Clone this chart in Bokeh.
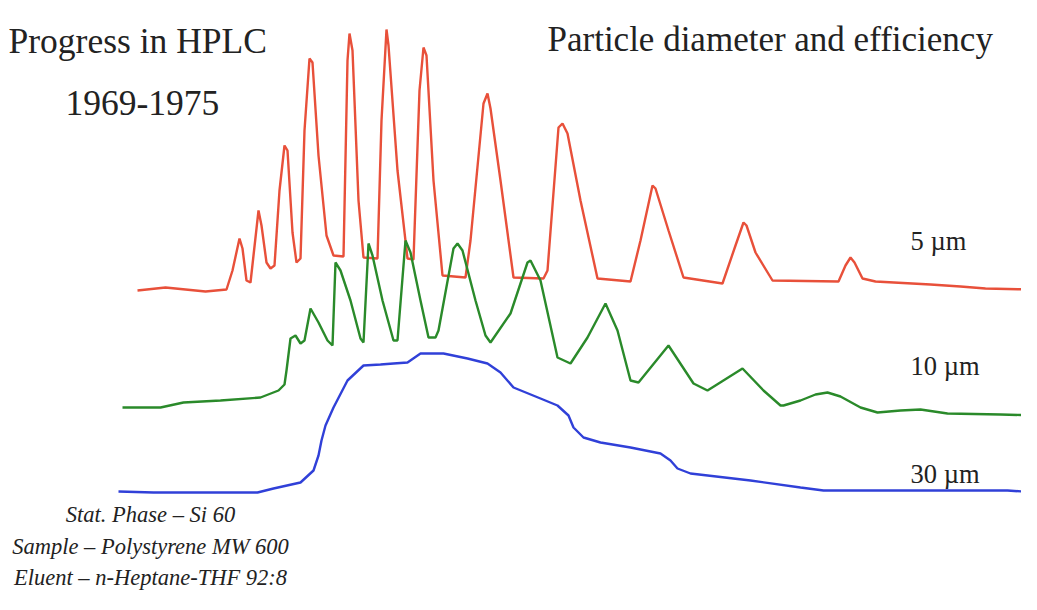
from bokeh.plotting import figure
from bokeh.models import Range1d, Label
from bokeh.embed import file_html
from bokeh.resources import INLINE

# ---- data (retention position, detector response; response axis runs downward) ----
red_t = [137,165,185,205,226,232,239,242,246,250,253,258,261,266,270,274,279,284,287,292,296,300,
         304,309,312,318,326,333,343,347,349,352,358,363,377,381,386,388,397,407,413,419,423,426,
         433,442,465,470,483,487,490,500,513,543,547,558,562,567,580,597,630,640,652,655,668,683,
         722,735,743,746,755,772,838,845,850,854,862,875,930,960,985,1030]
red_y = [290,287,289,291,289,270,238,248,280,282,255,210,225,262,268,265,190,145,150,232,262,258,
         130,58,62,155,235,255,256,60,33,50,200,257,258,120,29,45,170,258,259,90,47,55,
         180,275,277,240,103,93,108,180,277,278,270,127,123,133,200,278,281,240,185,188,230,277,
         283,245,222,225,252,280,281,265,257,262,278,281,284,286,288,289]

green_t = [122,160,183,220,260,278,284,286,290,295,300,304,310,318,327,332,335,340,350,360,363,
           368,372,382,393,397,405,410,420,428,435,438,453,457,462,475,485,490,510,527,530,540,
           557,570,587,605,617,630,638,668,693,707,742,763,780,783,800,815,827,840,860,877,900,
           920,947,1000,1037]
green_y = [407,407,402,400,397,390,384,370,338,335,343,340,308,322,340,345,262,270,300,338,342,
           243,255,300,340,340,240,252,300,337,337,330,248,243,250,300,335,342,313,262,260,280,
           357,363,337,303,330,380,382,345,383,390,368,390,405,405,400,394,392,396,407,412,410,
           409,413,414,415]

blue_t = [118,153,257,273,300,313,318,321,325,333,347,363,380,393,407,420,443,467,487,500,513,
          540,557,568,573,583,600,630,660,670,677,690,750,800,823,1007,1037]
blue_y = [491,492,492,488,482,470,455,440,425,407,380,365,364,363,362,353,353,358,363,372,387,
          398,405,415,427,437,442,447,453,460,468,473,480,487,490,490,492]

trace_labels = ["5 µm", "10 µm", "30 µm"]
title_left = ["Progress in HPLC", "1969-1975"]
title_right = "Particle diameter and efficiency"
notes = ["Stat. Phase – Si 60", "Sample – Polystyrene MW 600", "Eluent – n-Heptane-THF 92:8"]

p = figure(width=1021, height=594, output_backend="svg", toolbar_location=None,
           x_range=Range1d(0, 1021), y_range=Range1d(594, 0),
           x_axis_location=None, y_axis_location=None, min_border=0)
p.xgrid.visible = False
p.ygrid.visible = False
p.outline_line_color = None
p.background_fill_color = "white"

p.line(red_t, red_y, line_color="#e8503a", line_width=2.4)
p.line(green_t, green_y, line_color="#2a8a2a", line_width=2.4)
p.line(blue_t, blue_y, line_color="#3040d8", line_width=2.4)

serif = "Liberation Serif"
p.add_layout(Label(x=8, y=40, text=title_left[0], text_font=serif, text_font_size="35.5px",
                   text_color="#222222", text_baseline="alphabetic"))
p.add_layout(Label(x=65, y=102, text=title_left[1], text_font=serif, text_font_size="35.5px",
                   text_color="#222222", text_baseline="alphabetic"))
p.add_layout(Label(x=547, y=39, text=title_right, text_font=serif, text_font_size="35px",
                   text_color="#222222", text_baseline="alphabetic"))

for txt, yy in zip(trace_labels, [240, 365, 473]):
    p.add_layout(Label(x=910, y=yy, text=txt, text_font=serif, text_font_size="26.5px",
                       text_color="#222222", text_baseline="alphabetic"))

for txt, yy in zip(notes, [514, 546, 577]):
    p.add_layout(Label(x=150, y=yy, text=txt, text_font=serif, text_font_size="22.5px",
                       text_font_style="italic", text_color="#222222",
                       text_align="center", text_baseline="alphabetic"))

open("out.html", "w").write(file_html(p, INLINE))
